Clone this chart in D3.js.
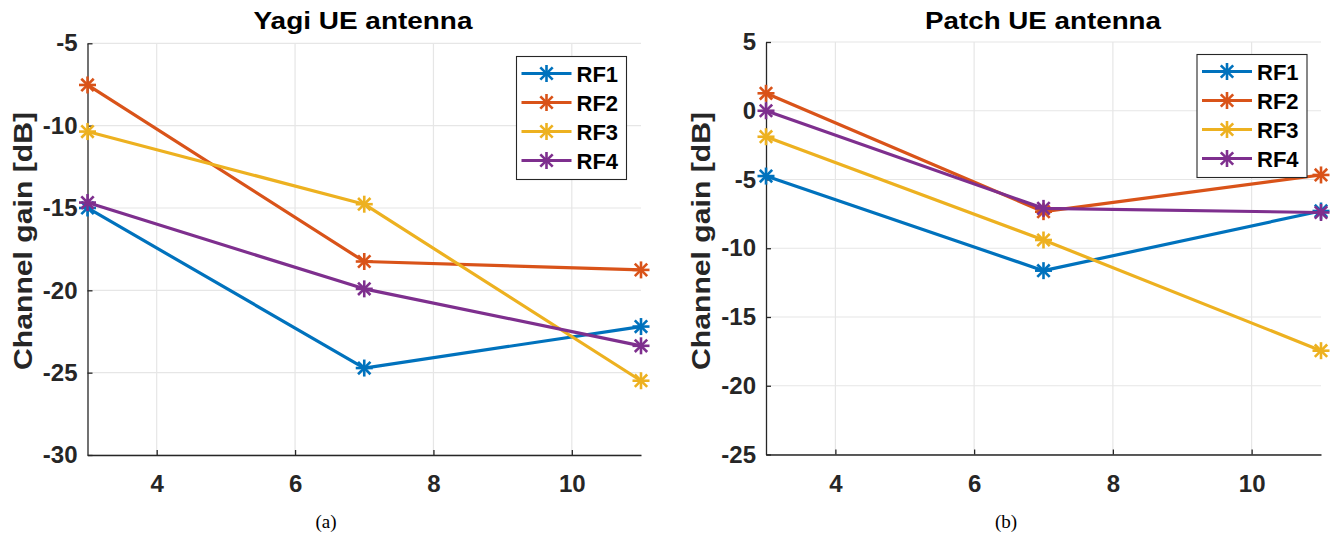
<!DOCTYPE html>
<html>
<head>
<meta charset="utf-8">
<script src="https://cdn.jsdelivr.net/npm/d3@7"></script>
<style>
  html, body { margin: 0; padding: 0; background: #fff; }
  svg { display: block; }
  text { font-family: "Liberation Sans", Arial, Helvetica, sans-serif; }
</style>
</head>
<body>
<svg id="fig" width="1338" height="533"></svg>
<script>
// Distance steps shared by both panels
const xValues = [3, 7, 11];
const xTicks = [4, 6, 8, 10];
const seriesNames = ["RF1", "RF2", "RF3", "RF4"];
const seriesColors = ["#0072BD", "#D95319", "#EDB120", "#7E2F8E"];

// Yagi UE antenna: channel gain [dB]
const yagiRF1 = [-15.0, -24.72, -22.2];
const yagiRF2 = [-7.53, -18.25, -18.76];
const yagiRF3 = [-10.36, -14.77, -25.49];
const yagiRF4 = [-14.67, -19.91, -23.37];
const yagiTicks = [-30, -25, -20, -15, -10, -5];

// Patch UE antenna: channel gain [dB]
const patchRF1 = [-4.75, -11.63, -7.29];
const patchRF2 = [1.27, -7.34, -4.67];
const patchRF3 = [-1.89, -9.4, -17.45];
const patchRF4 = [0.0, -7.1, -7.4];
const patchTicks = [-25, -20, -15, -10, -5, 0, 5];

const svg = d3.select("#fig");

// widen a text element horizontally by a factor (or to a fixed width)
function stretch(sel, factor, width) {
  sel.each(function () {
    const len = this.getComputedTextLength();
    const target = width != null ? width : len * factor;
    d3.select(this).attr("textLength", target).attr("lengthAdjust", "spacingAndGlyphs");
  });
}

// eight-armed asterisk marker
function asterisk(g, cx, cy, color) {
  const r = 8.5, d = 6.2;
  const segs = [[0, -r, 0, r], [-r, 0, r, 0], [-d, -d, d, d], [-d, d, d, -d]];
  g.selectAll(null).data(segs).join("line")
    .attr("x1", s => cx + s[0]).attr("y1", s => cy + s[1])
    .attr("x2", s => cx + s[2]).attr("y2", s => cy + s[3])
    .attr("stroke", color).attr("stroke-width", 2.6).attr("stroke-linecap", "butt");
}

function panel(opt) {
  const g = svg.append("g");
  const x = d3.scaleLinear().domain([3, 11]).range([opt.left, opt.right]);
  const y = d3.scaleLinear().domain(opt.yDomain).range([opt.bottom, opt.top]);

  // grid
  g.append("g").selectAll("line").data(xTicks).join("line")
    .attr("x1", d => x(d)).attr("x2", d => x(d))
    .attr("y1", opt.top).attr("y2", opt.bottom)
    .attr("stroke", "#e6e6e6").attr("stroke-width", 1.2);
  g.append("g").selectAll("line").data(opt.yTicks).join("line")
    .attr("x1", opt.left).attr("x2", opt.right)
    .attr("y1", d => y(d)).attr("y2", d => y(d))
    .attr("stroke", "#e6e6e6").attr("stroke-width", 1.2);

  // axes (ticks point inward, plain hyphen minus)
  const fmt = d => String(d);
  const xAxis = d3.axisBottom(x).tickValues(xTicks).tickFormat(fmt)
    .tickSizeInner(-5).tickSizeOuter(0).tickPadding(20);
  const yAxis = d3.axisLeft(y).tickValues(opt.yTicks).tickFormat(fmt)
    .tickSizeInner(-5).tickSizeOuter(0).tickPadding(10);
  const gx = g.append("g").attr("transform", `translate(0,${opt.bottom})`).call(xAxis);
  const gy = g.append("g").attr("transform", `translate(${opt.left},0)`).call(yAxis);
  [gx, gy].forEach(a => {
    a.select(".domain").attr("stroke", "#262626").attr("stroke-width", 1.3);
    a.selectAll(".tick line").attr("stroke", "#262626").attr("stroke-width", 1.3);
    a.selectAll(".tick text")
      .attr("fill", "#262626")
      .style("font-family", "'Liberation Sans', Arial, sans-serif")
      .style("font-size", "24px").style("font-weight", "bold");
  });
  gx.selectAll(".tick text").attr("dy", "0.71em");

  // series lines then markers
  const series = opt.series;
  const line = d3.line().x((d, i) => x(xValues[i])).y(d => y(d));
  series.forEach((vals, k) => {
    g.append("path").datum(vals).attr("d", line)
      .attr("fill", "none").attr("stroke", seriesColors[k]).attr("stroke-width", 3.2)
      .attr("stroke-linejoin", "round");
    vals.forEach((v, i) => asterisk(g, x(xValues[i]), y(v), seriesColors[k]));
  });

  // title
  g.append("text").attr("x", (opt.titleX)).attr("y", 29)
    .attr("text-anchor", "middle").attr("fill", "#000")
    .style("font-size", "24px").style("font-weight", "bold")
    .text(opt.title).call(stretch, 1, opt.titleW);

  // y label
  g.append("text")
    .attr("transform", `translate(${opt.labelX},${opt.labelY}) rotate(-90)`)
    .attr("text-anchor", "middle").attr("fill", "#262626")
    .style("font-size", "25px").style("font-weight", "bold")
    .text("Channel gain [dB]").call(stretch, 1, 258);

  // caption
  g.append("text").attr("x", opt.capX).attr("y", 528)
    .attr("text-anchor", "middle").attr("fill", "#000")
    .style("font-family", "'Liberation Serif', 'Times New Roman', serif")
    .style("font-size", "19px")
    .text(opt.caption);

  // legend
  const lg = g.append("g").attr("transform", `translate(${opt.legX},${opt.legY})`);
  lg.append("rect").attr("x", 0).attr("y", 0).attr("width", 110).attr("height", 123)
    .attr("fill", "#fff").attr("stroke", "#262626").attr("stroke-width", 1.1);
  seriesNames.forEach((name, k) => {
    const cy = 17 + k * 29;
    lg.append("line").attr("x1", 5).attr("x2", 55).attr("y1", cy).attr("y2", cy)
      .attr("stroke", seriesColors[k]).attr("stroke-width", 3.2);
    asterisk(lg, 30, cy, seriesColors[k]);
    lg.append("text").attr("x", 60).attr("y", cy + 8.5).attr("fill", "#000")
      .style("font-size", "22px").style("font-weight", "bold").text(name);
  });
}

panel({
  left: 87.5, right: 641, top: 43.3, bottom: 455,
  yDomain: [-30, -5], yTicks: yagiTicks,
  series: [yagiRF1, yagiRF2, yagiRF3, yagiRF4],
  title: "Yagi UE antenna", titleX: 363, titleW: 219,
  labelX: 32, labelY: 241, caption: "(a)", capX: 326,
  legX: 516.5, legY: 56.5
});

panel({
  left: 766, right: 1321, top: 42, bottom: 454.5,
  yDomain: [-25, 5], yTicks: patchTicks,
  series: [patchRF1, patchRF2, patchRF3, patchRF4],
  title: "Patch UE antenna", titleX: 1043, titleW: 236,
  labelX: 710, labelY: 241, caption: "(b)", capX: 1006,
  legX: 1197, legY: 54.5
});
</script>
</body>
</html>
